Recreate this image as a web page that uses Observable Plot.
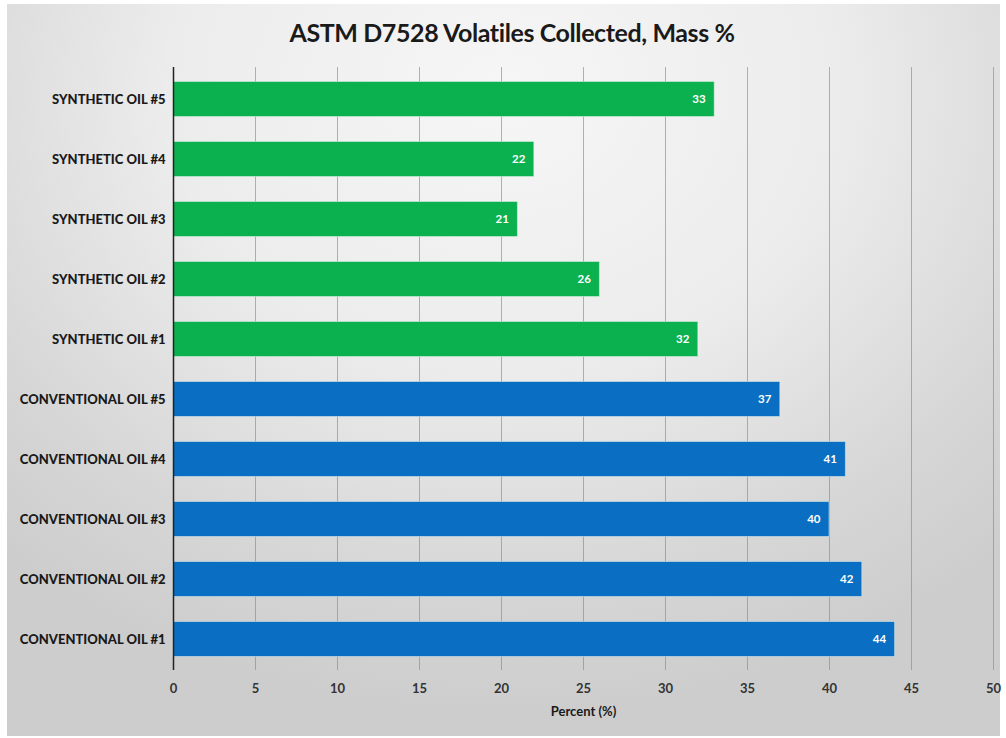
<!DOCTYPE html>
<html>
<head>
<meta charset="utf-8">
<script src="https://cdn.jsdelivr.net/npm/d3@7"></script>
<script src="https://cdn.jsdelivr.net/npm/@observablehq/plot@0.6"></script>
<style>
  html, body { margin: 0; padding: 0; background: #ffffff; }
  #wrap { position: relative; width: 1006px; height: 738px; overflow: hidden; font-family: Lato, "Open Sans", sans-serif; }
  #bg { position: absolute; left: 7px; top: 4px; right: 6px; bottom: 2px;
        background: radial-gradient(ellipse 75% 85% at 50% 12%, #f6f6f6 0%, #ececec 45%, #d6d6d6 80%, #cdcdcd 100%); }
  #title { position: absolute; left: 9px; width: 1006px; top: 17px; text-align: center;
           font-size: 25px; font-weight: 700; color: #1a1a1a; letter-spacing: -0.4px; }
  #chart { position: absolute; left: 0; top: 0; }
  #chart svg { background: transparent; }
</style>
</head>
<body>
<div id="wrap">
  <div id="bg"></div>
  <div id="title">ASTM D7528 Volatiles Collected, Mass %</div>
  <div id="chart"></div>
</div>
<script>
const oils = [
  "SYNTHETIC OIL #5", "SYNTHETIC OIL #4", "SYNTHETIC OIL #3", "SYNTHETIC OIL #2", "SYNTHETIC OIL #1",
  "CONVENTIONAL OIL #5", "CONVENTIONAL OIL #4", "CONVENTIONAL OIL #3", "CONVENTIONAL OIL #2", "CONVENTIONAL OIL #1"
];
const values = [33, 22, 21, 26, 32, 37, 41, 40, 42, 44];
const types = ["Synthetic", "Synthetic", "Synthetic", "Synthetic", "Synthetic",
               "Conventional", "Conventional", "Conventional", "Conventional", "Conventional"];
const xTicks = [0, 5, 10, 15, 20, 25, 30, 35, 40, 45, 50];
const xLabel = "Percent (%)";

const data = oils.map((name, i) => ({ name, value: values[i], type: types[i] }));

const chart = Plot.plot({
  width: 1006,
  height: 738,
  marginLeft: 173,
  marginRight: 13,
  marginTop: 67,
  marginBottom: 68,
  style: { background: "transparent", fontFamily: "Lato, 'Open Sans', sans-serif" },
  x: { domain: [0, 50] },
  y: { domain: oils, padding: 0 },
  color: { domain: ["Synthetic", "Conventional"], range: ["#0bb04f", "#0a6fc2"] },
  marks: [
    Plot.gridX(xTicks.filter(d => d > 0), { stroke: "#8a8a8a", strokeOpacity: 0.65, strokeWidth: 1 }),
    Plot.barX(data, { x: "value", y: "name", fill: "type", insetTop: 12.5, insetBottom: 12.5,
                      stroke: "#e8f4ea", strokeOpacity: 0.5, strokeWidth: 1 }),
    Plot.ruleX([0], { stroke: "#222", strokeWidth: 1.5 }),
    Plot.text(data, { x: "value", y: "name", text: d => String(d.value), dx: -9, textAnchor: "end",
                      fill: "white", fontWeight: "bold", fontSize: 11.5 }),
    Plot.axisX({ ticks: xTicks, tickSize: 0, tickPadding: 13, label: null, fontSize: 13,
                 fontWeight: "bold", fill: "#333" }),
    Plot.axisY({ tickSize: 0, tickPadding: 8, label: null, fontSize: 13, fontWeight: "900", fill: "#1a1a1a" }),
    Plot.text([xLabel], { frameAnchor: "bottom", dy: 45, fontSize: 13, fontWeight: "bold", fill: "#1a1a1a" })
  ]
});
document.getElementById("chart").appendChild(chart);
</script>
</body>
</html>
